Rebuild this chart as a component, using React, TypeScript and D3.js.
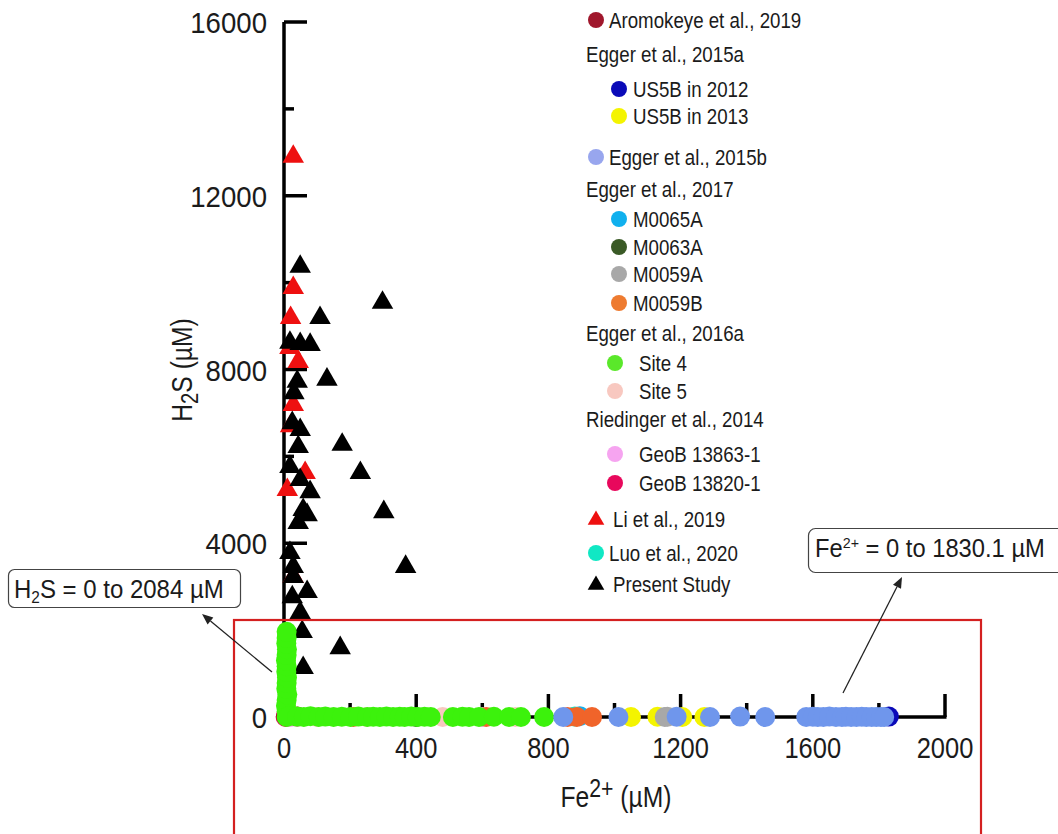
import * as React from "react";
import * as d3 from "d3";

type Pt = [number, number];

// ---- data (Fe2+ µM, H2S µM) ----
const presentStudy: Pt[] = [
  [49, 10370], [298, 9540], [109, 9190], [18, 8620], [49, 8590], [79, 8570],
  [130, 7770], [40, 7720], [30, 7460], [25, 6770], [49, 6610], [176, 6270],
  [43, 6220], [18, 5760], [231, 5620], [49, 5460], [79, 5180], [58, 4770],
  [302, 4720], [70, 4650], [43, 4470], [18, 3780], [28, 3460], [368, 3460],
  [28, 3230], [70, 2880], [25, 2760], [49, 2400], [55, 1960], [170, 1590],
  [58, 1130],
];
const liEtAl: Pt[] = [
  [28, 12900], [28, 9880], [20, 9190], [43, 8180], [18, 8500], [28, 7190],
  [20, 6700], [64, 5620], [10, 5230], [28, 3230],
];
const aromokeye: Pt[] = [[6, 20], [40, 10]];
const us5b2012: Pt[] = [[1830.1, 10]];
const us5b2013: Pt[] = [[1050, 0], [1130, 5], [1205, 0], [1272, 0]];
const egger2015b: Pt[] = [
  [845, 0], [1012, 0], [1188, 5], [1289, 0], [1380, 10], [1456, 0],
  [1580, 0], [1600, 5], [1615, 0], [1632, 0], [1650, 10], [1670, 0],
  [1688, 0], [1700, 5], [1716, 0], [1732, 0], [1748, 5], [1762, 0],
  [1778, 0], [1792, 0], [1806, 0], [1816, 0],
];
const m0065a: Pt[] = [[895, 20]];
const m0063a: Pt[] = [[400, 0]];
const m0059a: Pt[] = [[1152, 0], [1160, 5]];
const m0059b: Pt[] = [[210, 0], [612, 0], [858, 0], [886, 0], [932, 0]];
const site4: Pt[] = [
  [8, 0], [8, 130], [6, 260], [8, 390], [10, 520], [7, 650], [8, 780],
  [9, 910], [7, 1040], [8, 1170], [6, 1300], [8, 1430], [9, 1560],
  [7, 1690], [8, 1820], [8, 1960],
  [15, 20], [40, 10], [60, 0], [80, 20], [105, 0], [125, 10], [150, 0],
  [175, 5], [201, 0], [225, 10], [252, 0], [270, 5], [290, 0], [310, 10],
  [330, 0], [350, 5], [365, 0], [385, 10], [404, 0], [425, 5], [444, 0],
  [511, 0], [540, 5], [560, 0], [590, 0], [635, 5], [681, 0], [717, 0],
  [787, 0],
];
const site5: Pt[] = [[100, 0], [250, 0], [480, 0], [700, 0]];
const geob13863: Pt[] = [[20, 0], [600, 0]];
const geob13820: Pt[] = [[5, 0]];
const luo2020: Pt[] = [[880, 10]];

const xTicks = [0, 400, 800, 1200, 1600, 2000];
const yTicks = [0, 4000, 8000, 12000, 16000];

const legendRows = [
  { label: "Aromokeye et al., 2019", color: "#a0172c", kind: "top", mark: "circle" },
  { label: "Egger et al., 2015a", color: "", kind: "header", mark: "" },
  { label: "US5B in 2012", color: "#0a0ab8", kind: "sub", mark: "circle" },
  { label: "US5B in 2013", color: "#f4f400", kind: "sub", mark: "circle" },
  { label: "Egger et al., 2015b", color: "#98a6ee", kind: "top", mark: "circle" },
  { label: "Egger et al., 2017", color: "", kind: "header", mark: "" },
  { label: "M0065A", color: "#10b0ee", kind: "sub", mark: "circle" },
  { label: "M0063A", color: "#3a5a26", kind: "sub", mark: "circle" },
  { label: "M0059A", color: "#a8a8a8", kind: "sub", mark: "circle" },
  { label: "M0059B", color: "#ee7b30", kind: "sub", mark: "circle" },
  { label: "Egger et al., 2016a", color: "", kind: "header", mark: "" },
  { label: "Site 4", color: "#5ae82a", kind: "sub2", mark: "circle" },
  { label: "Site 5", color: "#f8c8c0", kind: "sub2", mark: "circle" },
  { label: "Riedinger et al., 2014", color: "", kind: "header", mark: "" },
  { label: "GeoB 13863-1", color: "#f6a4f0", kind: "sub2", mark: "circle" },
  { label: "GeoB 13820-1", color: "#e8085c", kind: "sub2", mark: "circle" },
  { label: "Li et al., 2019", color: "#ee1010", kind: "top", mark: "triangle" },
  { label: "Luo et al., 2020", color: "#10e8c4", kind: "top", mark: "circle" },
  { label: "Present Study", color: "#000000", kind: "top", mark: "triangle" },
];
const legendRowY = [20, 54, 89, 116, 157, 189, 219, 247, 274, 303, 333, 363, 391, 419, 454, 483, 519, 553, 584];

const FONT = "'Liberation Sans', Arial, sans-serif";
const INK = "#1b1b1b";

const Txt = ({ x, y, size, sx = 1, anchor = "start", rotate = 0, children }: any) => (
  <text
    transform={`translate(${x},${y}) rotate(${rotate}) scale(${sx},1)`}
    fontSize={size}
    textAnchor={anchor}
    fontFamily={FONT}
    fill={INK}
  >
    {children}
  </text>
);

const Arrow = ({ x1, y1, x2, y2 }: any) => {
  const a = Math.atan2(y2 - y1, x2 - x1);
  const L = 11;
  const W = 4.5;
  const bx = x2 - L * Math.cos(a);
  const by = y2 - L * Math.sin(a);
  const px = -Math.sin(a) * W;
  const py = Math.cos(a) * W;
  return (
    <g>
      <line x1={x1} y1={y1} x2={bx} y2={by} stroke="#222" strokeWidth={1.3} />
      <path d={`M${x2},${y2}L${bx + px},${by + py}L${bx - px},${by - py}Z`} fill="#222" />
    </g>
  );
};

const App = () => {
  const width = 1058;
  const height = 834;

  const x = d3.scaleLinear().domain([0, 2000]).range([284, 945]);
  const y = d3.scaleLinear().domain([0, 16000]).range([717, 22]);

  const tri = d3.symbol().type(d3.symbolTriangle).size(200)() ?? "";
  const triSmall = d3.symbol().type(d3.symbolTriangle).size(120)() ?? "";

  // drawing order matters: later series sit on top
  const circleSeries = [
    { data: geob13863, color: "#f6a4f0" },
    { data: geob13820, color: "#e8085c" },
    { data: aromokeye, color: "#a0172c" },
    { data: m0063a, color: "#3a5a26" },
    { data: site5, color: "#f8c8c0" },
    { data: m0065a, color: "#10b0ee" },
    { data: luo2020, color: "#10e8c4" },
    { data: us5b2013, color: "#f4f400" },
    { data: us5b2012, color: "#0a0ab8" },
    { data: m0059a, color: "#a8a8a8" },
    { data: m0059b, color: "#f0642a" },
    { data: site4, color: "#3cf20c" },
    { data: egger2015b, color: "#6f96ec" },
  ];

  const xMinor = d3.range(200, 2001, 200);
  const yMinor = d3.range(2000, 16001, 2000);

  return (
    <svg
      width={width}
      height={height}
      viewBox={`0 0 ${width} ${height}`}
      style={{ position: "absolute", left: 0, top: 0, background: "#fff", display: "block" }}
    >
      <rect x={0} y={0} width={width} height={height} fill="#fff" />

      {/* axes */}
      <line x1={x(0)} y1={y(16000)} x2={x(0)} y2={y(0) + 1.5} stroke="#000" strokeWidth={3.5} />
      <line x1={x(0)} y1={y(0)} x2={x(2000) + 1.5} y2={y(0)} stroke="#000" strokeWidth={3.5} />
      {yMinor.map((v) => (
        <line
          key={`yt${v}`}
          x1={x(0)}
          x2={x(0) + (v % 4000 === 0 ? 23 : 10)}
          y1={y(v)}
          y2={y(v)}
          stroke="#000"
          strokeWidth={3.5}
        />
      ))}
      {xMinor.map((v) => (
        <line
          key={`xt${v}`}
          x1={x(v)}
          x2={x(v)}
          y1={y(0)}
          y2={y(0) - (v % 400 === 0 ? 23 : 14)}
          stroke="#000"
          strokeWidth={3.5}
        />
      ))}

      {yTicks.map((v) => (
        <Txt key={`yl${v}`} x={267} y={y(v) + 11} size={30} sx={0.92} anchor="end">
          {v}
        </Txt>
      ))}
      {xTicks.map((v) => (
        <Txt key={`xl${v}`} x={x(v)} y={758} size={30} sx={0.85} anchor="middle">
          {v}
        </Txt>
      ))}

      <Txt x={192} y={370} size={29} sx={0.85} anchor="middle" rotate={-90}>
        H<tspan dy={6} fontSize={24}>2</tspan>
        <tspan dy={-6}>S (µM)</tspan>
      </Txt>
      <Txt x={616} y={807} size={29} sx={0.85} anchor="middle">
        Fe<tspan dy={-10} fontSize={25}>2+</tspan>
        <tspan dy={10}> (µM)</tspan>
      </Txt>

      {/* triangles */}
      {liEtAl.map((d, i) => (
        <path key={`li${i}`} d={tri} transform={`translate(${x(d[0])},${y(d[1])})`} fill="#ee1010" />
      ))}
      {presentStudy.map((d, i) => (
        <path key={`ps${i}`} d={tri} transform={`translate(${x(d[0])},${y(d[1])})`} fill="#000" />
      ))}

      {/* circles */}
      {circleSeries.map((s, si) =>
        s.data.map((d, i) => (
          <circle key={`c${si}-${i}`} cx={x(d[0])} cy={y(d[1])} r={10} fill={s.color} />
        ))
      )}

      {/* red highlight box */}
      <rect x={234} y={620} width={747} height={230} fill="none" stroke="#d42020" strokeWidth={2.2} />

      {/* annotations */}
      <rect x={8.5} y={569.5} width={232} height={38} rx={6} fill="#fff" stroke="#444" strokeWidth={1.2} />
      <Txt x={14} y={598} size={25} sx={0.96}>
        H<tspan dy={5} fontSize={16}>2</tspan>
        <tspan dy={-5}>S = 0 to 2084 µM</tspan>
      </Txt>
      <Arrow x1={272} y1={672} x2={202} y2={614} />

      <rect x={808.5} y={528.5} width={256} height={44} rx={7} fill="#fff" stroke="#444" strokeWidth={1.2} />
      <Txt x={815} y={557} size={25} sx={0.95}>
        Fe<tspan dy={-9} fontSize={15}>2+</tspan>
        <tspan dy={9}>{"  = 0 to 1830.1 µM"}</tspan>
      </Txt>
      <Arrow x1={843} y1={693} x2={902} y2={577} />

      {/* legend */}
      {legendRows.map((r, i) => {
        const cy = legendRowY[i];
        const base = cy + 8;
        if (r.kind === "header") {
          return (
            <Txt key={`lg${i}`} x={586} y={base} size={22} sx={0.85}>
              {r.label}
            </Txt>
          );
        }
        const mx = r.kind === "top" ? 596 : r.kind === "sub" ? 619 : 615;
        const tx = r.kind === "top" ? (r.mark === "triangle" ? 613 : 609) : r.kind === "sub" ? 633 : 639;
        return (
          <g key={`lg${i}`}>
            {r.mark === "circle" ? (
              <circle cx={mx} cy={cy} r={8} fill={r.color} />
            ) : (
              <path d={triSmall} transform={`translate(${mx},${cy + 1})`} fill={r.color} />
            )}
            <Txt x={tx} y={base} size={22} sx={0.85}>
              {r.label}
            </Txt>
          </g>
        );
      })}
    </svg>
  );
};

export default App;
